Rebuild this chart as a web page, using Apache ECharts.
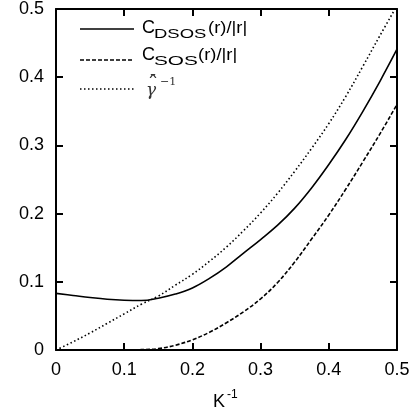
<!DOCTYPE html>
<html>
<head>
<meta charset="utf-8">
<script src="https://cdn.jsdelivr.net/npm/echarts@6/dist/echarts.min.js"></script>
<style>html,body{margin:0;padding:0;background:#fff;}#c{width:417px;height:417px;}</style>
</head>
<body>
<div id="c"></div>
<script>
var xValues = [0, 0.025, 0.05, 0.075, 0.1, 0.125, 0.15, 0.175, 0.2, 0.225, 0.25, 0.275, 0.3, 0.325, 0.35, 0.375, 0.4, 0.425, 0.45, 0.475, 0.5];
var cDSOS = [0.083, 0.080, 0.077, 0.0745, 0.073, 0.0725, 0.076, 0.082, 0.091, 0.105, 0.122, 0.142, 0.162, 0.183, 0.208, 0.238, 0.272, 0.309, 0.350, 0.394, 0.441];
var cSOS = [0, 0, 0, 0, 0, 0.0005, 0.002, 0.007, 0.015, 0.026, 0.040, 0.056, 0.075, 0.099, 0.129, 0.163, 0.198, 0.236, 0.276, 0.317, 0.360];
var gammaInv = [0, 0.012, 0.025, 0.039, 0.053, 0.067, 0.079, 0.095, 0.111, 0.130, 0.151, 0.175, 0.201, 0.230, 0.262, 0.296, 0.332, 0.372, 0.416, 0.461, 0.505];
var xTickLabels = ['0', '0.1', '0.2', '0.3', '0.4', '0.5'];
var yTickLabels = ['0', '0.1', '0.2', '0.3', '0.4', '0.5'];

function pairs(ys) { return xValues.map(function (x, i) { return [x, ys[i]]; }); }
var FONT = '"Liberation Sans", Arial, sans-serif';
var SERIF = '"DejaVu Serif", "Liberation Serif", serif';
function axisLine() { return { show: true, onZero: false, lineStyle: { color: '#000', width: 2 } }; }
function tick() { return { show: true, inside: true, length: 7, lineStyle: { color: '#000', width: 2 } }; }

var chart = echarts.init(document.getElementById('c'), null, { renderer: 'canvas' });
function txt(t, x, y, size, opts) {
  opts = opts || {};
  var al = opts.align || 'left';
  return {
    type: 'text', x: x, y: y, scaleX: opts.sx || 1, z: 100,
    style: {
      text: t, x: 0, y: 0,
      font: (opts.italic ? 'italic ' : '') + size + 'px ' + (opts.family || FONT),
      fill: opts.color || '#000',
      align: al, verticalAlign: 'middle', textAlign: al, textVerticalAlign: 'middle'
    }
  };
}
function legLine(y, dash) {
  return { type: 'line', z: 100, shape: { x1: 80, y1: y, x2: 134, y2: y },
    style: { stroke: '#000', lineWidth: 1.5, lineDash: dash } };
}
chart.setOption({
  animation: false,
  backgroundColor: '#fff',
  grid: { left: 56, right: 20, top: 9, bottom: 67, containLabel: false },
  xAxis: [
    { type: 'value', position: 'bottom', min: 0, max: 0.5, interval: 0.1,
      axisLine: axisLine(), axisTick: tick(), splitLine: { show: false },
      axisLabel: { color: '#000', fontSize: 18, fontFamily: FONT, margin: 11,
        formatter: function (v) { return xTickLabels[Math.round(v / 0.1)]; } } },
    { type: 'value', show: true, position: 'top', min: 0, max: 0.5, interval: 0.1,
      axisLine: axisLine(), axisTick: tick(), splitLine: { show: false }, axisLabel: { show: false } }
  ],
  yAxis: [
    { type: 'value', position: 'left', min: 0, max: 0.5, interval: 0.1,
      axisLine: axisLine(), axisTick: tick(), splitLine: { show: false },
      axisLabel: { color: '#000', fontSize: 18, fontFamily: FONT, margin: 12,
        formatter: function (v) { return yTickLabels[Math.round(v / 0.1)]; } } },
    { type: 'value', show: true, position: 'right', min: 0, max: 0.5, interval: 0.1,
      axisLine: axisLine(), axisTick: tick(), splitLine: { show: false }, axisLabel: { show: false } }
  ],
  series: [
    { name: 'C_DSOS(r)/|r|', type: 'line', data: pairs(cDSOS), showSymbol: false, smooth: 0.4,
      lineStyle: { color: '#000', width: 1.6, type: 'solid' }, clip: true },
    { name: 'C_SOS(r)/|r|', type: 'line', data: pairs(cSOS), showSymbol: false, smooth: 0.4,
      xAxisIndex: 1, yAxisIndex: 1,
      lineStyle: { color: '#000', width: 1.6, type: [4, 2] }, clip: true },
    { name: 'gamma^-1', type: 'line', data: pairs(gammaInv), showSymbol: false, smooth: 0.4,
      lineStyle: { color: '#000', width: 1.6, type: [1.5, 2.5] }, clip: true }
  ],
  graphic: [
    legLine(29, null), legLine(60, [4, 2]), legLine(89, [1.5, 2.5]),
    txt('C', 142, 28, 18),
    txt('DSOS', 154, 34.5, 13, { sx: 1.42 }),
    txt('(r)/|r|', 208, 29, 16, { sx: 1.15 }),
    txt('C', 142, 55, 18),
    txt('SOS', 154, 61.7, 13, { sx: 1.6 }),
    txt('(r)/|r|', 198, 56, 16, { sx: 1.15 }),
    txt('\u03B3', 146, 91, 17, { italic: true, family: SERIF, color: '#333' }),
    txt('\u02C6', 153, 86.5, 22, { family: SERIF, color: '#333', align: 'center' }),
    txt('\u00AF', 153, 81, 15, { family: SERIF, color: '#333', align: 'center' }),
    txt('\u22121', 160, 82, 11, { family: SERIF, color: '#333' }),
    txt('K', 213, 402, 18),
    txt('-1', 227, 395, 12)
  ]
});
</script>
</body>
</html>
